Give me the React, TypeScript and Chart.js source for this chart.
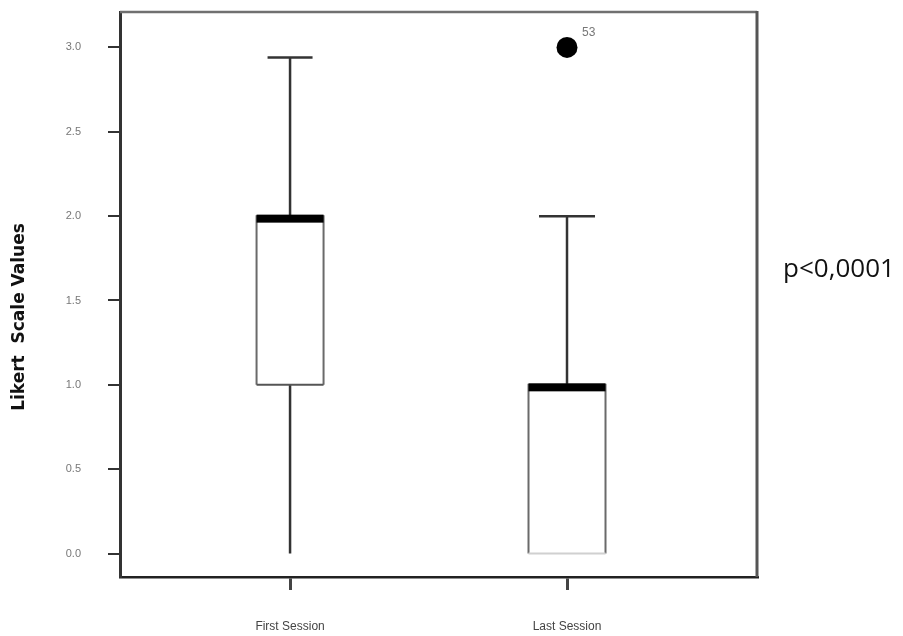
import React, { useEffect, useRef } from 'react';
import { Chart, registerables } from 'chart.js';
Chart.register(...registerables);

// ---- data ----
const categories = ['First Session', 'Last Session'];
const positions = [1, 2];
const whiskerLow = [0.0, 0.0];
const q1 = [1.0, 0.0];
const median = [2.0, 1.0];
const q3 = [2.0, 1.0];
const whiskerHigh = [2.94, 2.0];
const outlierX = [2];
const outlierY = [3.0];
const outlierLabels = ['53'];
const yTicks = [0, 0.5, 1.0, 1.5, 2.0, 2.5, 3.0];
const yTitle = 'Likert  Scale Values';
const pValueText = 'p<0,0001';

// ---- styles ----
const boxWidths = [67, 77];
const capWidths = [45, 56];
const boxBottomColors = ['#555', '#d0d0d0'];

const boxPlugin = {
  id: 'boxPlugin',
  beforeDatasetsDraw(chart: any) {
    const { ctx, scales } = chart;
    const xs = scales.x;
    const ys = scales.y;
    ctx.save();
    positions.forEach((p, i) => {
      const cx = xs.getPixelForValue(p);
      const bw = boxWidths[i];
      const cw = capWidths[i];
      const yQ1 = ys.getPixelForValue(q1[i]);
      const yQ3 = ys.getPixelForValue(q3[i]);
      const yMed = ys.getPixelForValue(median[i]);
      const yLo = ys.getPixelForValue(whiskerLow[i]);
      const yHi = ys.getPixelForValue(whiskerHigh[i]);
      ctx.strokeStyle = '#333';
      ctx.lineWidth = 2.5;
      ctx.beginPath();
      if (whiskerHigh[i] > q3[i]) {
        ctx.moveTo(cx, yQ3);
        ctx.lineTo(cx, yHi);
      }
      if (whiskerLow[i] < q1[i]) {
        ctx.moveTo(cx, yQ1);
        ctx.lineTo(cx, yLo);
      }
      ctx.stroke();
      if (whiskerHigh[i] > q3[i]) {
        ctx.beginPath();
        ctx.moveTo(cx - cw / 2, yHi);
        ctx.lineTo(cx + cw / 2, yHi);
        ctx.stroke();
      }
      ctx.fillStyle = '#fff';
      ctx.fillRect(cx - bw / 2, yQ3, bw, yQ1 - yQ3);
      ctx.strokeStyle = '#6a6a6a';
      ctx.lineWidth = 2;
      ctx.beginPath();
      ctx.moveTo(cx - bw / 2, yQ1);
      ctx.lineTo(cx - bw / 2, yQ3);
      ctx.lineTo(cx + bw / 2, yQ3);
      ctx.lineTo(cx + bw / 2, yQ1);
      ctx.stroke();
      ctx.strokeStyle = boxBottomColors[i];
      ctx.beginPath();
      ctx.moveTo(cx - bw / 2, yQ1);
      ctx.lineTo(cx + bw / 2, yQ1);
      ctx.stroke();
      ctx.fillStyle = '#000';
      ctx.fillRect(cx - bw / 2, yMed - 1.5, bw, 8);
    });
    ctx.restore();
  },
  afterDraw(chart: any) {
    const { ctx, chartArea, scales } = chart;
    ctx.save();
    ctx.strokeStyle = '#707070';
    ctx.lineWidth = 2.5;
    ctx.beginPath();
    ctx.moveTo(chartArea.left, chartArea.top);
    ctx.lineTo(chartArea.right, chartArea.top);
    ctx.stroke();
    ctx.strokeStyle = '#555';
    ctx.lineWidth = 3;
    ctx.beginPath();
    ctx.moveTo(chartArea.right, chartArea.top - 1);
    ctx.lineTo(chartArea.right, chartArea.bottom);
    ctx.stroke();
    // y axis title
    ctx.save();
    ctx.translate(20, 317);
    ctx.rotate(-Math.PI / 2);
    ctx.fillStyle = '#111';
    ctx.font = 'bold 17px "DejaVu Sans", sans-serif';
    ctx.textAlign = 'center';
    ctx.textBaseline = 'middle';
    ctx.fillText(yTitle, 0, 0);
    ctx.restore();
    // outlier labels
    ctx.fillStyle = '#777';
    ctx.font = '12px "Liberation Sans", Arial, sans-serif';
    ctx.textAlign = 'left';
    ctx.textBaseline = 'middle';
    outlierX.forEach((x, i) => {
      const px = scales.x.getPixelForValue(x);
      const py = scales.y.getPixelForValue(outlierY[i]);
      ctx.fillText(outlierLabels[i], px + 15, py - 15);
    });
    // p value
    ctx.fillStyle = '#111';
    ctx.font = '26px "Open Sans", "Liberation Sans", sans-serif';
    ctx.textAlign = 'center';
    ctx.textBaseline = 'middle';
    ctx.fillText(pValueText, 839, 270);
    ctx.restore();
  },
};

export default function App() {
  const ref = useRef<HTMLCanvasElement | null>(null);
  useEffect(() => {
    document.body.style.margin = '0';
    if (!ref.current) return;
    const chart = new Chart(ref.current, {
      type: 'scatter',
      data: {
        datasets: [
          {
            label: 'outliers',
            data: outlierX.map((x, i) => ({ x, y: outlierY[i] })),
            pointRadius: 10.5,
            pointHoverRadius: 10.5,
            backgroundColor: '#000',
            borderWidth: 0,
            clip: false,
          },
        ],
      },
      options: {
        animation: false,
        responsive: false,
        devicePixelRatio: 1,
        layout: { autoPadding: false, padding: { left: 0, top: 12, right: 146, bottom: 0 } },
        plugins: { legend: { display: false }, tooltip: { enabled: false } },
        scales: {
          x: {
            type: 'linear',
            min: 0.386,
            max: 2.686,
            afterBuildTicks: (scale: any) => {
              scale.ticks = positions.map((v) => ({ value: v }));
            },
            afterFit: (scale: any) => {
              scale.height = 59;
              scale.paddingLeft = 0;
              scale.paddingRight = 0;
            },
            border: { display: true, color: '#222', width: 2.5 },
            grid: { drawOnChartArea: false, drawTicks: true, tickLength: 13, color: '#444', lineWidth: 3 },
            ticks: {
              padding: 29,
              color: '#444',
              font: { size: 12, family: '"Liberation Sans", Arial, sans-serif' },
              maxRotation: 0,
              autoSkip: false,
              callback: (v: any) => {
                const idx = positions.indexOf(Number(v));
                return idx >= 0 ? categories[idx] : '';
              },
            },
          },
          y: {
            type: 'linear',
            min: -0.139,
            max: 3.21,
            afterBuildTicks: (scale: any) => {
              scale.ticks = yTicks.map((v) => ({ value: v }));
            },
            afterFit: (scale: any) => {
              scale.width = 120;
              scale.paddingTop = 0;
              scale.paddingBottom = 0;
            },
            border: { display: true, color: '#333', width: 3 },
            grid: { drawOnChartArea: false, drawTicks: true, tickLength: 12, color: '#333', lineWidth: 2 },
            ticks: {
              padding: 27,
              crossAlign: 'center',
              color: '#777',
              font: { size: 11, family: '"Liberation Sans", Arial, sans-serif' },
              callback: (v: any) => Number(v).toFixed(1),
            },
          },
        },
      },
      plugins: [boxPlugin],
    } as any);
    return () => chart.destroy();
  }, []);
  return (
    <div style={{ width: 903, height: 636 }}>
      <canvas ref={ref} width={903} height={636} />
    </div>
  );
}
